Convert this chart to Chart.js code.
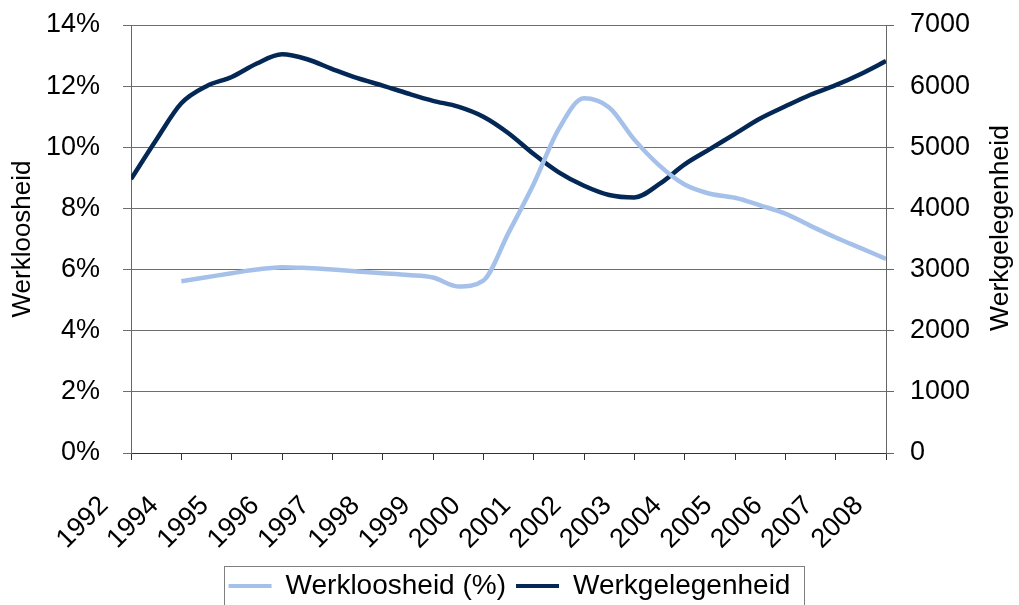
<!DOCTYPE html>
<html>
<head>
<meta charset="utf-8">
<script src="https://cdn.jsdelivr.net/npm/chart.js@4.4.1/dist/chart.umd.min.js"></script>
<style>
    body { margin: 0; background: #fff; }
    #wrap { width: 1019px; height: 605px; }
</style>
</head>
<body>
<div id="wrap"><canvas id="arbeidChart" width="1019" height="605"></canvas></div>
<script>
// jaartallen onder de as (1993 ontbreekt in het origineel)
const yearLabels = ['1992', '1994', '1995', '1996', '1997', '1998', '1999', '2000',
    '2001', '2002', '2003', '2004', '2005', '2006', '2007', '2008'];

// positie op de as, in halve labelstappen
const xSteps = [0, 0.5, 1, 1.5, 2, 2.5, 3, 3.5, 4, 4.5, 5, 5.5, 6, 6.5, 7, 7.5,
    8, 8.5, 9, 9.5, 10, 10.5, 11, 11.5, 12, 12.5, 13, 13.5, 14, 14.5, 15];

const werkloosheid = [null, null, 5.62, 5.75, 5.88, 6.00, 6.08, 6.05, 6.00, 5.94, 5.88,
    5.82, 5.74, 5.45, 5.64, 7.2, 8.8, 10.6, 11.6, 11.3, 10.25, 9.4, 8.78, 8.48, 8.35,
    8.1, 7.83, 7.43, 7.05, 6.7, 6.35];

const werkgelegenheid = [4480, 5120, 5720, 6000, 6150, 6370, 6520, 6440, 6280, 6130,
    6010, 5880, 5760, 5665, 5500, 5230, 4890, 4590, 4370, 4220, 4180, 4400, 4720, 4970,
    5220, 5470, 5670, 5860, 6016, 6200, 6410];

const percentTicks = [0, 2, 4, 6, 8, 10, 12, 14];

const fontFamily = "'Liberation Sans', Arial, sans-serif";
const lichtBlauw = 'rgb(166, 193, 233)';
const donkerBlauw = 'rgb(4, 40, 86)';

function toPoints(values) {
    return values.map((v, i) => ({ x: xSteps[i], y: v }));
}

// legenda iets omlaag en een kader eromheen, zoals in Excel
const legendBox = {
    id: 'legendBox',
    afterUpdate(chart) {
        const legend = chart.legend;
        legend.top += 5;
        legend.bottom += 5;
        legend.legendHitBoxes.forEach(h => h.top += 5);
    },
    afterDraw(chart) {
        const boxes = chart.legend.legendHitBoxes;
        if (!boxes.length) return;
        const last = boxes[boxes.length - 1];
        const left = Math.round(boxes[0].left - 5) + 0.5;
        const right = Math.round(last.left + last.width + 14) + 0.5;
        const top = Math.round(boxes[0].top - 6) + 0.5;
        const ctx = chart.ctx;
        ctx.save();
        ctx.strokeStyle = '#7f7f7f';
        ctx.lineWidth = 1;
        ctx.strokeRect(left, top, right - left, 640 - top);
        ctx.restore();
    }
};

// rechter astitel van onder naar boven, zoals links
const rightTitle = {
    id: 'rightTitle',
    afterDraw(chart) {
        const area = chart.chartArea;
        const ctx = chart.ctx;
        ctx.save();
        ctx.translate(1001, (area.top + area.bottom) / 2 - 11);
        ctx.rotate(-Math.PI / 2);
        ctx.font = '26.5px ' + fontFamily;
        ctx.fillStyle = '#000';
        ctx.textAlign = 'center';
        ctx.textBaseline = 'middle';
        ctx.fillText('Werkgelegenheid', 0, 0);
        ctx.restore();
    }
};

// vaste breedte, en geen extra ruimte boven/onder voor de labels
function fixWidth(width) {
    return scale => {
        scale.width = width;
        scale.paddingTop = 0;
        scale.paddingBottom = 0;
    };
}

new Chart(document.getElementById('arbeidChart'), {
    type: 'line',
    data: {
        datasets: [{
            label: 'Werkloosheid (%)',
            data: toPoints(werkloosheid),
            yAxisID: 'y',
            borderColor: lichtBlauw,
            backgroundColor: lichtBlauw,
            borderWidth: 4.5,
            pointRadius: 0,
            tension: 0.4,
            cubicInterpolationMode: 'monotone'
        }, {
            label: 'Werkgelegenheid',
            data: toPoints(werkgelegenheid),
            yAxisID: 'y1',
            borderColor: donkerBlauw,
            backgroundColor: donkerBlauw,
            borderWidth: 4.5,
            pointRadius: 0,
            tension: 0.4,
            cubicInterpolationMode: 'monotone'
        }]
    },
    options: {
        responsive: false,
        animation: false,
        layout: {
            padding: { top: 25, left: 0, right: 0, bottom: 0 }
        },
        plugins: {
            legend: {
                position: 'bottom',
                labels: {
                    color: '#000',
                    font: { family: fontFamily, size: 28 },
                    boxWidth: 43,
                    boxHeight: 4,
                    padding: 10,
                    generateLabels(chart) {
                        const items = Chart.defaults.plugins.legend.labels.generateLabels(chart);
                        items.forEach(item => {
                            item.lineWidth = 0;
                            item.fillStyle = item.strokeStyle;
                        });
                        return items;
                    }
                }
            },
            tooltip: { enabled: false }
        },
        scales: {
            x: {
                type: 'linear',
                min: 0,
                max: 15,
                afterBuildTicks(scale) {
                    scale.ticks = yearLabels.map((_, i) => ({ value: i }));
                },
                afterFit(scale) {
                    scale.height = 104;
                },
                ticks: {
                    autoSkip: false,
                    maxRotation: 45,
                    minRotation: 45,
                    padding: 30,
                    labelOffset: -27,
                    color: '#000',
                    font: { family: fontFamily, size: 27 },
                    callback: value => yearLabels[value]
                },
                grid: {
                    drawOnChartArea: false,
                    drawTicks: true,
                    tickLength: 7,
                    color: '#333'
                },
                border: { color: '#333', width: 1 }
            },
            y: {
                position: 'left',
                min: 0,
                max: 14,
                afterBuildTicks(scale) {
                    scale.ticks = percentTicks.map(v => ({ value: v }));
                },
                afterFit: fixWidth(131),
                ticks: {
                    padding: 23,
                    color: '#000',
                    font: { family: fontFamily, size: 27 },
                    callback: value => value + '%'
                },
                grid: {
                    color: '#6e6e6e',
                    tickLength: 8
                },
                border: { color: '#666', width: 1 },
                title: {
                    display: true,
                    text: 'Werkloosheid',
                    color: '#000',
                    font: { family: fontFamily, size: 26 },
                    padding: { top: 7, bottom: 0 }
                }
            },
            y1: {
                position: 'right',
                min: 0,
                max: 7000,
                ticks: {
                    stepSize: 1000,
                    padding: 16,
                    color: '#000',
                    font: { family: fontFamily, size: 27 },
                    callback: value => String(value)
                },
                afterFit: fixWidth(133),
                grid: {
                    drawOnChartArea: false,
                    color: '#666',
                    tickLength: 8
                },
                border: { color: '#666', width: 1 }
            }
        }
    },
    plugins: [legendBox, rightTitle]
});
</script>
</body>
</html>
